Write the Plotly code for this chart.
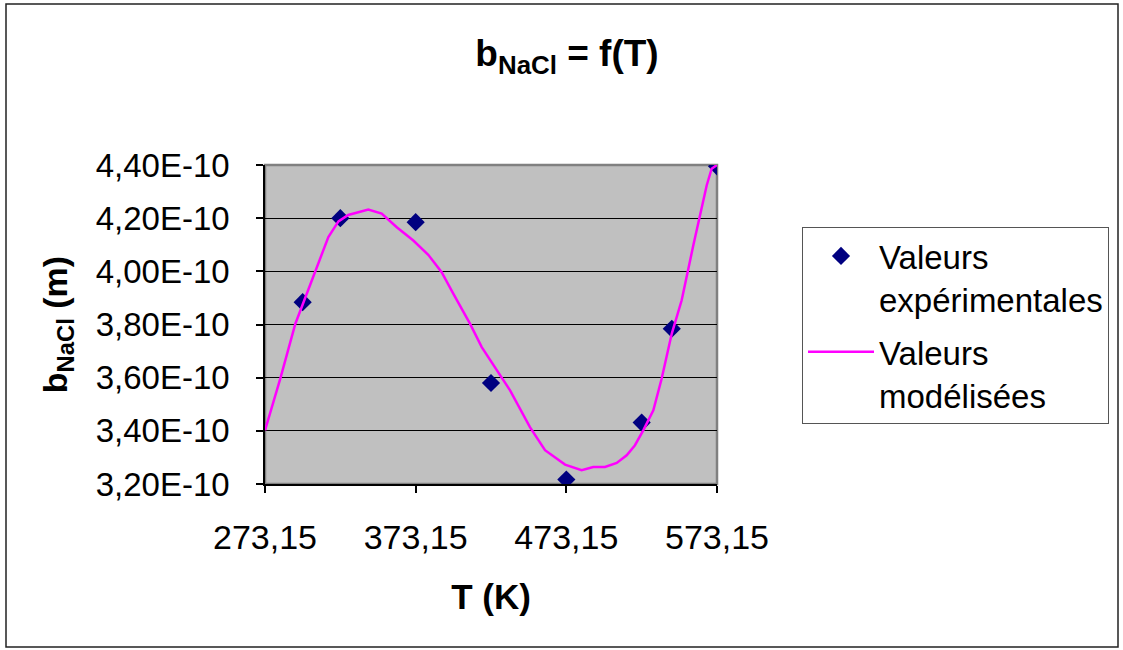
import plotly.graph_objects as go

# Experimental points
T_exp = [298.15, 323.15, 373.15, 423.15, 473.15, 523.15, 543.15, 573.15]
b_exp = [3.884e-10, 4.200e-10, 4.185e-10, 3.580e-10, 3.217e-10, 3.431e-10, 3.784e-10, 4.395e-10]

# Modelled curve
T_mod = [273.15, 283.3, 293.3, 304.3, 315.2, 321.9, 328.4, 341.7, 350.6, 360.6, 371.6,
         381.5, 390.4, 398.1, 409.2, 417.0, 425.8, 435.8, 449.0, 459.0, 472.3, 483.3,
         491.0, 498.8, 506.6, 513.2, 518.7, 524.2, 530.9, 536.4, 543.1, 549.7, 557.4,
         561.9, 566.3, 569.6, 573.15]
b_mod = [3.402, 3.596, 3.803, 3.966, 4.129, 4.188, 4.212, 4.232, 4.217, 4.166, 4.116,
         4.062, 3.997, 3.916, 3.803, 3.715, 3.640, 3.552, 3.414, 3.327, 3.273, 3.252,
         3.264, 3.264, 3.279, 3.308, 3.346, 3.402, 3.477, 3.596, 3.765, 3.891, 4.097,
         4.210, 4.323, 4.386, 4.400]
b_mod = [v * 1e-10 for v in b_mod]

x_ticks = [273.15, 373.15, 473.15, 573.15]
x_ticktext = ["273,15", "373,15", "473,15", "573,15"]
y_ticks = [3.2e-10, 3.4e-10, 3.6e-10, 3.8e-10, 4.0e-10, 4.2e-10, 4.4e-10]
y_ticktext = ["3,20E-10", "3,40E-10", "3,60E-10", "3,80E-10", "4,00E-10", "4,20E-10", "4,40E-10"]

FONT = "Arial, Liberation Sans, sans-serif"

fig = go.Figure()
fig.add_trace(go.Scatter(
    x=T_exp, y=b_exp, mode="markers", name="Valeurs<br>expérimentales",
    legendgroup="exp",
    marker=dict(symbol="diamond", size=14, color="#000080"),
))
fig.add_trace(go.Scatter(
    x=T_mod, y=b_mod, mode="lines", name="Valeurs<br>modélisées",
    legendgroup="mod",
    line=dict(color="#FF00FF", width=2.5),
))

L, R, T, B = 265, 1123 - 717, 165, 650 - 484
W, H = 1123, 650
pw, ph = W - L - R, H - T - B

def px_x(p):
    return (p - L) / pw

def px_y(p):
    return (H - B - p) / ph

fig.update_layout(
    width=W, height=H,
    margin=dict(l=L, r=R, t=T, b=B),
    paper_bgcolor="white",
    plot_bgcolor="#C0C0C0",
    font=dict(family=FONT, color="black", size=33),
    title=dict(
        text="<b>b<sub>NaCl</sub> = f(T)</b>",
        x=567 / W, xanchor="center",
        y=1 - 53 / H, yanchor="middle",
        font=dict(size=37, family=FONT, color="black"),
    ),
    xaxis=dict(
        range=[273.15, 573.15],
        tickvals=x_ticks, ticktext=x_ticktext,
        showgrid=False, zeroline=False,
        showline=True, linecolor="black", linewidth=1.5,
        ticks="outside", ticklen=7, tickcolor="black", tickwidth=1.5,
        tickfont=dict(size=34),
        ticklabelstandoff=15,
        title=dict(text="<b>T (K)</b>", font=dict(size=35), standoff=30),
    ),
    yaxis=dict(
        range=[3.2e-10, 4.4e-10],
        tickvals=y_ticks, ticktext=y_ticktext,
        showgrid=True, gridcolor="black", gridwidth=1,
        zeroline=False,
        showline=True, linecolor="black", linewidth=1.5,
        ticks="outside", ticklen=7, tickcolor="black", tickwidth=1.5,
        tickfont=dict(size=33),
        ticklabelstandoff=20,
        title=dict(text="<b>b<sub>NaCl</sub> (m)</b>", font=dict(size=34), standoff=18),
    ),
    legend=dict(
        x=px_x(802), y=px_y(227), xanchor="left", yanchor="top",
        bgcolor="white", bordercolor="#555555", borderwidth=1,
        font=dict(size=33, family=FONT, color="black"),
        itemwidth=66, valign="top", tracegroupgap=7,
        traceorder="grouped",
    ),
    showlegend=True,
    shapes=[
        dict(type="rect", xref="paper", yref="paper",
             x0=0, x1=1, y0=0, y1=1, layer="between",
             line=dict(color="#808080", width=2.5)),
        dict(type="rect", xref="paper", yref="paper",
             x0=px_x(6), x1=px_x(1118), y0=px_y(647), y1=px_y(4),
             line=dict(color="#222222", width=1.5)),
    ],
)

fig.write_html("out.html", config={"displayModeBar": False},
               post_script="document.body.style.margin='0';")
